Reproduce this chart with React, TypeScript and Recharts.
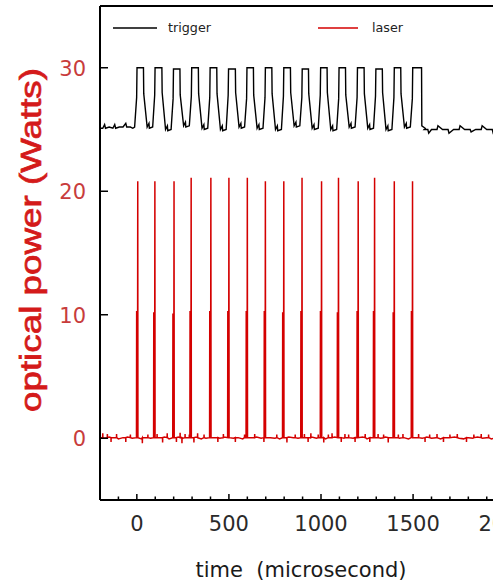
import React from 'react';
import { LineChart, Line, XAxis, YAxis, Legend, Label, ReferenceLine } from 'recharts';

// ---------- data ----------
const X_TICKS = [-100, 0, 100, 200, 300, 400, 500, 600, 700, 800, 900, 1000, 1100, 1200, 1300, 1400, 1500, 1600, 1700, 1800, 1900, 2000, 2100];
const X_MAJOR = [0, 500, 1000, 1500, 2000];
const X_LABELS = ['0', '500', '1000', '1500', '2000'];
const Y_TICKS = [0, 10, 20, 30];
const Y_LABELS = ['0', '10', '20', '30'];
const Y_TOP = 35;

// laser spikes
const laserSpikeTimes = [5, 98, 202, 295, 402, 500, 600, 698, 798, 897, 1003, 1095, 1202, 1291, 1398, 1497];
const laserPeaks = [20.8, 20.8, 20.8, 21.1, 21.1, 21.1, 21.1, 20.8, 20.8, 21.1, 20.8, 21.1, 20.8, 21.1, 20.8, 20.8];
const laserShoulders = [10.3, 10.2, 10.1, 10.3, 10.3, 10.3, 10.3, 10.3, 10.2, 10.3, 10.3, 10.2, 10.3, 10.3, 10.2, 10.3];

// laser baseline (time, watts)
const laserBaseTimes = [-200, -175, -150, -125, -100, -75, -50, -25, 25, 50, 75, 125, 150, 175, 225, 250, 275, 325, 350, 375, 425, 450, 475, 525, 550, 575, 625, 650, 675, 725, 750, 775, 825, 850, 875, 925, 950, 975, 1025, 1050, 1075, 1125, 1150, 1175, 1225, 1250, 1275, 1325, 1350, 1375, 1425, 1450, 1475, 1525, 1550, 1575, 1600, 1625, 1650, 1675, 1700, 1725, 1750, 1775, 1800, 1825, 1850, 1875, 1900, 1925, 1950, 1975, 2000, 2025, 2050, 2075, 2100, 2125, 2150, 2175, 2200];
const laserBaseValues = [0.05, 0.0, 0.1, 0.05, -0.05, 0.05, 0.1, 0.0, -0.05, 0.05, 0.0, 0.05, 0.1, -0.05, 0.1, 0.0, 0.05, 0.1, -0.05, 0.0, 0.05, 0.0, 0.1, 0.0, 0.05, -0.05, 0.05, 0.1, 0.0, 0.05, 0.0, -0.05, 0.1, 0.05, 0.0, 0.05, 0.1, 0.0, -0.05, 0.05, 0.1, 0.0, 0.05, 0.0, 0.1, -0.05, 0.05, 0.0, 0.1, 0.05, 0.0, 0.05, -0.05, 0.05, 0.0, 0.1, 0.0, 0.05, -0.05, 0.05, 0.0, 0.1, 0.0, -0.05, 0.05, 0.0, 0.1, 0.0, 0.05, -0.05, 0.0, 0.05, 0.1, 0.0, 0.05, -0.05, 0.05, 0.0, 0.1, 0.0, 0.05];
// short noise hairs on the laser baseline
const laserHairTimes = [-185, -160, -140, -110, -60, -35, 30, 60, 110, 140, 165, 215, 235, 245, 262, 285, 310, 330, 365, 440, 470, 535, 585, 640, 690, 760, 815, 860, 910, 930, 945, 985, 1015, 1040, 1060, 1110, 1130, 1150, 1185, 1240, 1265, 1310, 1340, 1365, 1420, 1445, 1530, 1565, 1590, 1630, 1665, 1700, 1740, 1790, 1830, 1870, 1910, 1950, 1990, 2030, 2070, 2110, 2150, 2190];
const laserHairValues = [0.4, 0.35, -0.3, 0.35, -0.3, 0.3, -0.4, 0.3, 0.35, -0.35, 0.4, -0.3, 0.45, -0.4, 0.35, 0.3, -0.35, 0.4, 0.3, -0.3, 0.35, -0.3, 0.3, 0.35, -0.3, 0.3, -0.35, 0.3, 0.35, -0.3, 0.4, 0.3, -0.35, 0.3, 0.4, -0.3, 0.35, 0.3, -0.3, 0.35, -0.3, 0.35, 0.3, -0.35, 0.3, 0.35, 0.35, -0.3, 0.3, 0.35, -0.3, 0.3, 0.35, -0.3, 0.3, 0.35, 0.3, -0.3, 0.35, 0.3, -0.3, 0.35, 0.3, -0.35];

// trigger (time, level)
const triggerPreTimes = [-200, -185, -175, -170, -150, -130, -120, -115, -95, -75, -60, -55, -35, -22];
const triggerPreValues = [25.1, 25.1, 25.4, 25.1, 25.2, 25.1, 25.4, 25.1, 25.2, 25.2, 25.5, 25.2, 25.2, 25.1];
const triggerRise = [1, 99, 199, 298, 398, 498, 598, 698, 798, 898, 998, 1098, 1198, 1298, 1398, 1498];
const triggerHighEnd = [36, 136, 234, 334, 434, 535, 633, 733, 834, 932, 1033, 1133, 1234, 1333, 1433, 1546];
const triggerHigh = [30.0, 30.0, 29.9, 30.0, 30.0, 29.9, 30.0, 30.0, 30.0, 29.9, 30.0, 30.0, 30.0, 29.9, 30.0, 30.0];
const triggerRiseMid = [27.6, 27.8, 27.5, 27.7, 27.6, 27.8, 27.5, 27.6, 27.7, 27.6, 27.8, 27.5, 27.6, 27.7, 27.6, 27.5];
const triggerFallMid = [27.9, 28.0, 27.8, 27.9, 27.9, 28.0, 27.8, 27.9, 28.0, 27.9, 28.0, 27.8, 27.9, 28.0, 27.9, 25.3];
const triggerLow = [25.2, 25.0, 25.3, 25.1, 25.0, 25.2, 25.1, 25.0, 25.3, 25.1, 25.0, 25.2, 25.1, 25.0, 25.2, 25.1];
const triggerPostTimes = [1560, 1580, 1585, 1600, 1630, 1635, 1660, 1690, 1695, 1720, 1750, 1755, 1780, 1810, 1815, 1840, 1870, 1875, 1900, 1930, 1935, 1960, 1990, 1995, 2020, 2050, 2055, 2080, 2110, 2115, 2140, 2170, 2200];
const triggerPostValues = [25.0, 25.0, 24.7, 25.0, 25.0, 25.3, 25.0, 25.0, 24.7, 25.0, 25.0, 25.3, 25.0, 25.0, 24.8, 25.0, 25.0, 25.3, 25.0, 25.0, 24.7, 25.0, 25.0, 25.3, 25.0, 25.0, 24.8, 25.0, 25.0, 25.3, 25.0, 25.0, 25.0];

// ---------- build series ----------
type Pt = { t: number; v: number };

const laserData: Pt[] = (() => {
  const pts: Pt[] = laserBaseTimes.map((t, i) => ({ t, v: laserBaseValues[i] }));
  laserHairTimes.forEach((t, i) => {
    pts.push({ t: t - 0.6, v: 0.05 });
    pts.push({ t, v: laserHairValues[i] });
    pts.push({ t: t + 0.6, v: 0.05 });
  });
  laserSpikeTimes.forEach((s, i) => {
    pts.push({ t: s - 7, v: 0.05 });
    pts.push({ t: s - 6, v: laserShoulders[i] });
    pts.push({ t: s - 1.5, v: 0.0 });
    pts.push({ t: s, v: laserPeaks[i] });
    pts.push({ t: s + 1, v: 0.05 });
  });
  pts.sort((a, b) => a.t - b.t);
  return pts;
})();

const triggerData: Pt[] = (() => {
  const pts: Pt[] = triggerPreTimes.map((t, i) => ({ t, v: triggerPreValues[i] }));
  triggerRise.forEach((r, i) => {
    const low = i === 0 ? 25.2 : triggerLow[i - 1];
    // lower half of the rising edge is slow, upper half is sharp
    pts.push({ t: r - 13, v: low });
    pts.push({ t: r - 2, v: triggerRiseMid[i] });
    pts.push({ t: r, v: triggerHigh[i] });
    pts.push({ t: triggerHighEnd[i], v: triggerHigh[i] });
    // falling edge: sharp drop, then slow tail to the low level
    pts.push({ t: triggerHighEnd[i] + 1.5, v: triggerFallMid[i] });
    pts.push({ t: triggerHighEnd[i] + 20, v: triggerLow[i] });
    if (i < triggerRise.length - 1) {
      pts.push({ t: triggerHighEnd[i] + 30, v: triggerLow[i] + 0.3 });
      pts.push({ t: triggerHighEnd[i] + 32, v: triggerLow[i] - 0.1 });
    }
  });
  triggerPostTimes.forEach((t, i) => pts.push({ t, v: triggerPostValues[i] }));
  return pts;
})();

// ---------- rendering ----------
const TICK_FONT = '"DejaVu Sans", "Liberation Sans", Arial, sans-serif';

const XTick = (props: any) => {
  const { x, y, payload } = props;
  const idx = X_MAJOR.indexOf(payload.value);
  const major = idx >= 0;
  return (
    <g>
      <line x1={x} x2={x} y1={y} y2={y - (major ? 6 : 3.5)} stroke="#000" strokeWidth={1.5} />
      {major && (
        <text x={x} y={y + 31} textAnchor="middle" fontFamily={TICK_FONT} fontSize={21} fill="#2a2a2a">
          {X_LABELS[idx]}
        </text>
      )}
    </g>
  );
};

const YTick = (props: any) => {
  const { x, y, payload } = props;
  const idx = Y_TICKS.indexOf(payload.value);
  return (
    <g>
      <line x1={x} x2={x + 8} y1={y} y2={y} stroke="#000" strokeWidth={1.5} />
      <text x={x - 14} y={y + 8} textAnchor="end" fontFamily={TICK_FONT} fontSize={21} fill="#c83c3c">
        {Y_LABELS[idx]}
      </text>
    </g>
  );
};

const XTitle = (props: any) => {
  const vb = props.viewBox || { x: 100, y: 500 };
  return (
    <text
      x={vb.x + 201}
      y={vb.y + 77}
      textAnchor="middle"
      fontFamily={TICK_FONT}
      fontSize={21}
      fill="#1a1a1a"
      style={{ whiteSpace: 'pre' }}
    >
      {'time  (microsecond)'}
    </text>
  );
};

const YTitle = () => {
  const cx = 30;
  const cy = 240;
  return (
    <text
      x={cx}
      y={cy}
      transform={`rotate(-90, ${cx}, ${cy})`}
      textAnchor="middle"
      dominantBaseline="central"
      fontFamily='"Liberation Sans", Arial, sans-serif'
      fontSize={30}
      fill="#d41a1a"
      stroke="#d41a1a"
      strokeWidth={0.7}
      textLength={344}
      lengthAdjust="spacingAndGlyphs"
    >
      optical power (Watts)
    </text>
  );
};

const LegendContent = () => (
  <svg width={320} height={20} style={{ display: 'block' }}>
    <line x1={3} x2={47} y1={10} y2={10} stroke="#000" strokeWidth={1.4} />
    <text x={58} y={14} fontFamily={TICK_FONT} fontSize={12.5} fill="#222" textLength={43} lengthAdjust="spacingAndGlyphs">trigger</text>
    <line x1={208} x2={248} y1={10} y2={10} stroke="#d40000" strokeWidth={1.4} />
    <text x={262} y={14} fontFamily={TICK_FONT} fontSize={12.5} fill="#222" textLength={31} lengthAdjust="spacingAndGlyphs">laser</text>
  </svg>
);

export default function App() {
  return (
    <div style={{ position: 'absolute', left: 0, top: 0, width: 493, height: 585, overflow: 'hidden', background: '#fff' }}>
      <LineChart width={560} height={585} margin={{ top: 6, right: 18, left: 40, bottom: 35 }}>
        <XAxis
          dataKey="t"
          type="number"
          domain={[-200, 2200]}
          ticks={X_TICKS}
          interval={0}
          allowDataOverflow
          tickSize={0}
          tickMargin={0}
          tick={<XTick />}
          axisLine={{ stroke: '#000', strokeWidth: 2 }}
          tickLine={false}
          height={50}
        >
          <Label content={<XTitle />} />
        </XAxis>
        <YAxis
          type="number"
          domain={[-5, Y_TOP]}
          ticks={Y_TICKS}
          interval={0}
          allowDataOverflow
          tickSize={0}
          tickMargin={0}
          tick={<YTick />}
          axisLine={{ stroke: '#000', strokeWidth: 2 }}
          tickLine={false}
          width={60}
        >
          <Label content={<YTitle />} />
        </YAxis>
        <ReferenceLine y={Y_TOP} stroke="#000" strokeWidth={2} ifOverflow="extendDomain" />
        <Legend
          layout="horizontal"
          verticalAlign="middle"
          align="center"
          content={<LegendContent />}
          wrapperStyle={{ position: 'absolute', top: 18, left: 110, width: 320, height: 20 }}
        />
        <Line
          data={laserData}
          dataKey="v"
          name="laser"
          type="linear"
          stroke="#d40000"
          strokeWidth={1.5}
          dot={false}
          isAnimationActive={false}
        />
        <Line
          data={triggerData}
          dataKey="v"
          name="trigger"
          type="linear"
          stroke="#000"
          strokeWidth={1.4}
          dot={false}
          isAnimationActive={false}
        />
      </LineChart>
    </div>
  );
}
